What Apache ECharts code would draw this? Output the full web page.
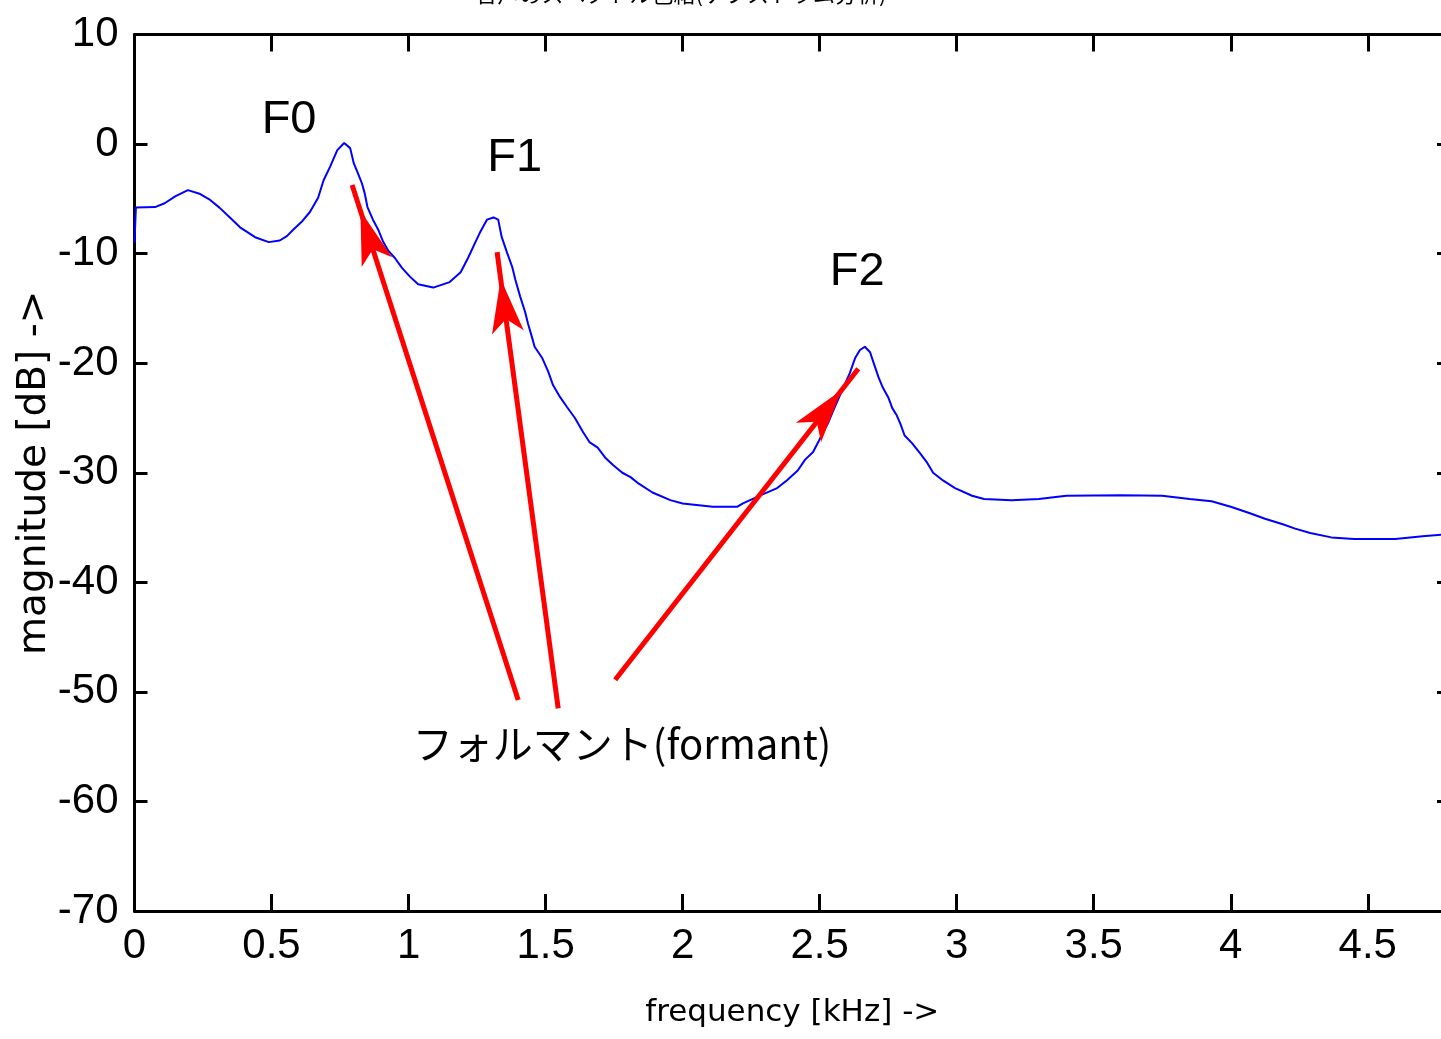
<!DOCTYPE html>
<html><head><meta charset="utf-8">
<script src="https://cdn.jsdelivr.net/npm/echarts@6/dist/echarts.min.js"></script>
<style>html,body{margin:0;padding:0;background:#fff;overflow:hidden}#c{width:1441px;height:1039px}</style>
</head><body><div id="c"></div>
<script>
// spectral envelope (frequency in kHz, magnitude in dB)
const freqKHz = [0, 0.005, 0.075, 0.11, 0.15, 0.195, 0.24, 0.276, 0.31, 0.35, 0.385, 0.44, 0.49, 0.53, 0.556, 0.58, 0.61, 0.64, 0.67, 0.69, 0.713, 0.74, 0.765, 0.787, 0.80, 0.815, 0.83, 0.84, 0.85, 0.87, 0.89, 0.907, 0.925, 0.95, 0.976, 1.005, 1.035, 1.09, 1.15, 1.19, 1.217, 1.243, 1.26, 1.286, 1.31, 1.327, 1.34, 1.36, 1.378, 1.39, 1.407, 1.425, 1.436, 1.45, 1.46, 1.487, 1.51, 1.527, 1.553, 1.578, 1.607, 1.637, 1.66, 1.69, 1.717, 1.746, 1.78, 1.81, 1.84, 1.89, 1.955, 2.0, 2.11, 2.2, 2.22, 2.29, 2.345, 2.38, 2.42, 2.447, 2.476, 2.495, 2.51, 2.53, 2.55, 2.58, 2.61, 2.63, 2.647, 2.665, 2.684, 2.7, 2.715, 2.73, 2.75, 2.765, 2.78, 2.794, 2.81, 2.837, 2.866, 2.89, 2.914, 2.95, 2.994, 3.056, 3.1, 3.2, 3.3, 3.4, 3.6, 3.75, 3.85, 3.93, 4.0, 4.07, 4.125, 4.19, 4.235, 4.29, 4.367, 4.45, 4.6, 4.7, 4.8];
const magDB = [-9.0, -5.8, -5.75, -5.4, -4.75, -4.2, -4.56, -5.1, -5.8, -6.75, -7.6, -8.5, -8.95, -8.8, -8.4, -7.8, -7.1, -6.2, -4.9, -3.3, -2.1, -0.55, 0.1, -0.37, -1.75, -2.65, -3.6, -4.5, -5.75, -6.9, -7.85, -8.9, -9.7, -10.4, -11.3, -12.1, -12.8, -13.1, -12.6, -11.7, -10.4, -9.0, -8.1, -6.9, -6.7, -6.9, -8.5, -9.95, -11.2, -12.4, -13.9, -15.3, -16.4, -17.6, -18.5, -19.5, -20.8, -22, -23.1, -24, -25, -26.3, -27.2, -27.7, -28.6, -29.3, -30, -30.4, -31, -31.8, -32.5, -32.8, -33.1, -33.1, -32.8, -32, -31.4, -30.7, -29.8, -28.8, -28.1, -27.2, -26.4, -25.5, -24.3, -22.6, -20.9, -19.5, -18.8, -18.5, -19, -20.2, -21.3, -22.2, -23.1, -24.1, -24.7, -25.5, -26.6, -27.3, -28.2, -29.0, -30, -30.7, -31.4, -32.1, -32.4, -32.5, -32.4, -32.1, -32.05, -32.1, -32.4, -32.6, -33.1, -33.7, -34.2, -34.7, -35.1, -35.5, -35.9, -36.05, -36.05, -35.8, -35.6];

// annotations
const noteTexts = ['F0', 'F1', 'F2', 'フォルマント(formant)'];
const noteX = [0.564, 1.387, 2.637, 1.779];
const noteY = [2.2, -1.3, -11.7, -54.7];

// arrows (data coordinates)
const arrowFromX = [1.40, 1.546, 1.754];
const arrowFromY = [-50.75, -51.5, -48.9];
const arrowToX = [0.794, 1.323, 2.641];
const arrowToY = [-3.74, -9.86, -20.5];

const titleText = '音声のスペクトル包絡(ケプストラム分析)';
const xAxisName = 'frequency [kHz] ->';
const yAxisName = 'magnitude [dB] ->';
const xMin = 0, xMax = 4.8, xStep = 0.5;
const yMin = -70, yMax = 10, yStep = 10;

const chart = echarts.init(document.getElementById('c'), null, {renderer: 'canvas'});

const tickFont = 'Liberation Sans';
const axLine = {show: true, onZero: false, lineStyle: {color: '#000', width: 3}};

const curve = freqKHz.map((f, i) => [f, magDB[i]]);
const notes = noteTexts.map((t, i) => {
  const big = i < 3;
  return {
    name: t, value: [noteX[i], noteY[i]],
    label: big
      ? {fontFamily: 'Liberation Sans', fontSize: 47, color: '#000000', opacity: 1}
      : {fontFamily: 'Noto Sans CJK JP', fontSize: 40, color: '#000000', opacity: 1}
  };
});
const arrows = arrowFromX.map((x, i) => [
  {coord: [x, arrowFromY[i]]},
  {coord: [arrowToX[i], arrowToY[i]]}
]);

chart.setOption({
  animation: false,
  backgroundColor: '#fff',
  graphic: [{
    type: 'text', x: 681, y: 5, silent: true,
    style: {text: titleText, fill: '#000', font: '22px "Noto Sans CJK JP"', align: 'center', verticalAlign: 'bottom'}
  }],
  grid: {left: 134.5, right: -9, top: 34.5, bottom: 128, outerBoundsMode: 'none', containLabel: false},
  xAxis: [{
    type: 'value', min: xMin, max: xMax, interval: xStep, position: 'bottom',
    axisLine: axLine,
    axisTick: {show: true, inside: true, length: 17, lineStyle: {color: '#000', width: 3}},
    axisLabel: {show: true, showMaxLabel: false, margin: 14, color: '#000', fontFamily: tickFont, fontSize: 42,
      formatter: v => (v > 4.6 ? '' : String(v))},
    splitLine: {show: false},
    name: xAxisName, nameLocation: 'middle', nameGap: 86, nameMoveOverlap: false,
    nameTextStyle: {color: '#000', fontFamily: 'DejaVu Sans', fontSize: 31}
  }, {
    type: 'value', min: xMin, max: xMax, interval: xStep, position: 'top',
    axisLine: axLine,
    axisTick: {show: true, inside: true, length: 17, lineStyle: {color: '#000', width: 3}},
    axisLabel: {show: false}, splitLine: {show: false}
  }],
  yAxis: [{
    type: 'value', min: yMin, max: yMax, interval: yStep, position: 'left',
    axisLine: axLine,
    axisTick: {show: true, inside: true, length: 13, lineStyle: {color: '#000', width: 3}},
    axisLabel: {show: true, margin: 16, color: '#000', fontFamily: tickFont, fontSize: 42},
    splitLine: {show: false},
    name: yAxisName, nameLocation: 'middle', nameGap: 80, nameMoveOverlap: false,
    nameTextStyle: {color: '#000', fontFamily: 'DejaVu Sans', fontSize: 39}
  }, {
    type: 'value', min: yMin, max: yMax, interval: yStep, position: 'right',
    axisLine: axLine,
    axisTick: {show: true, inside: true, length: 13, lineStyle: {color: '#000', width: 3}},
    axisLabel: {show: false}, splitLine: {show: false}
  }],
  series: [{
    type: 'line', name: 'envelope', data: curve, showSymbol: false, symbol: 'none',
    lineStyle: {color: '#0000ff', width: 2}, silent: true, z: 3,
    markLine: {
      silent: true, animation: false,
      symbol: ['none', 'arrow'], symbolSize: [24, 54], symbolOffset: [0, [0, 27]],
      lineStyle: {color: '#ff0000', width: 5, type: 'solid', opacity: 1},
      itemStyle: {color: '#ff0000'},
      label: {show: false}, emphasis: {disabled: true},
      data: arrows
    }
  }, {
    type: 'scatter', name: 'notes', data: notes, symbolSize: 0, silent: true, z: 5,
    itemStyle: {opacity: 1},
    label: {show: true, position: 'inside', color: '#000000', textBorderWidth: 0, formatter: p => p.name},
    emphasis: {disabled: true}
  }]
});
</script></body></html>
